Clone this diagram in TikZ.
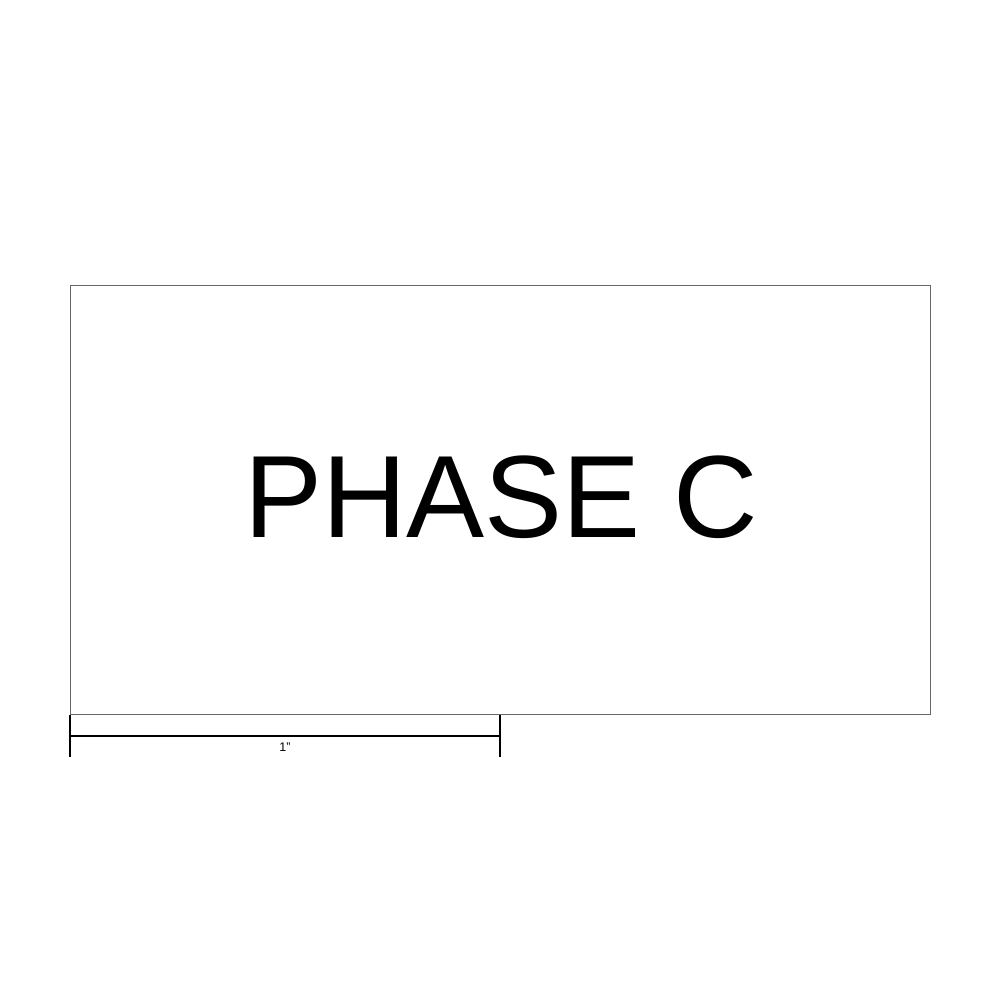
\documentclass[tikz,border=0pt]{standalone}
\usepackage{fontspec}
\setmainfont{Liberation Sans}
\begin{document}
\begin{tikzpicture}[x=1pt,y=-1pt,
  frame/.style={draw=black!60,line width=1pt},
  bar/.style={draw=black,line width=2.2pt},
  big/.style={font=\fontsize{117}{117}\selectfont,inner sep=0pt,anchor=base},
  small/.style={font=\fontsize{12.5}{12.5}\selectfont,inner sep=0pt,anchor=base}]
\useasboundingbox (0,0) rectangle (1000,1000);
\fill[white] (0,0) rectangle (1000,1000);
\node[frame,minimum width=860pt,minimum height=429pt,anchor=north west,inner sep=0pt] (box) at (70,285) {};
\node[big] (title) at (501,537) {PHASE C};
\coordinate (l1) at (70,715);
\coordinate (l2) at (70,757);
\coordinate (r1) at (500,715);
\coordinate (r2) at (500,757);
\coordinate (ml) at (70,736);
\coordinate (mr) at (500,736);
\draw[bar] (l1) -- (l2);
\draw[bar] (r1) -- (r2);
\draw[bar] (ml) -- (mr);
\node[small] (lbl) at (285,751) {1"};
\end{tikzpicture}
\end{document}
